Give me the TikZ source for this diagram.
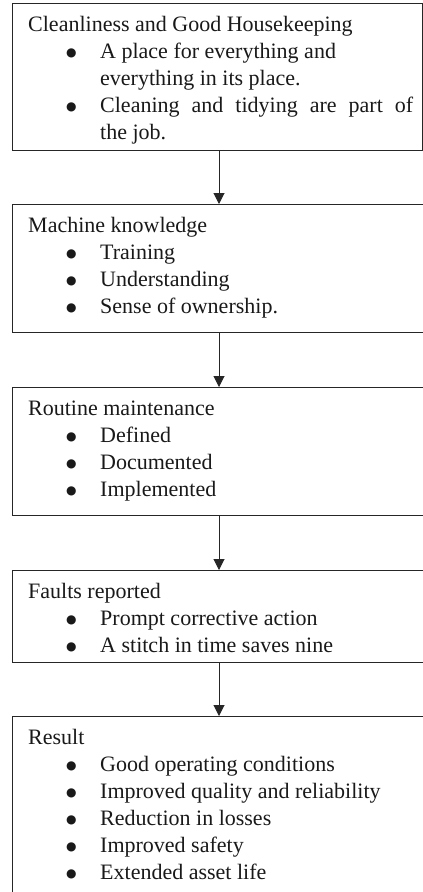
\documentclass[tikz,border=0pt]{standalone}
\usepackage{fontspec}
\setmainfont{Liberation Serif}
\newfontfamily\symfont{DejaVu Sans}
\usetikzlibrary{arrows.meta}
\newcommand{\itm}[1]{\hspace*{38pt}\makebox[34pt][l]{\raisebox{2.6pt}{\symfont\fontsize{12}{12}\selectfont ●}}#1}
\newcommand{\cnt}[1]{\hspace*{72pt}#1}

\begin{document}
\begin{tikzpicture}[x=1pt, y=1pt,
		box/.style={rectangle, draw=black!85, line width=1pt, anchor=north west, inner sep=0pt, minimum width=428},
		txt/.style={anchor=north west, inner sep=0pt, align=left, text=black!90, font=\fontsize{22}{27}\selectfont},
		arr/.style={-{Triangle[width=11pt, length=11pt]}, draw=black!85, fill=black!85, line width=1pt}
		]
		\useasboundingbox (0,0) rectangle (423,-892);
		\clip (0,0) rectangle (423,-892);
		
		%Boxes
		\node[box, minimum width=410, minimum height=147]	(b1)	at (12, -3)		{};
		\node[box, minimum height=128]	(b2)	at (12, -204)	{};
		\node[box, minimum height=128]	(b3)	at (12, -387)	{};
		\node[box, minimum height=92]	(b4)	at (12, -570)	{};
		\node[box, minimum height=190]	(b5)	at (12, -716)	{};
		
		%Texts
		\node[txt]	(t1)	at ([shift={(16,-9.6)}]b1.north west)	{\strut Cleanliness and Good Housekeeping\\
			\itm{A place for everything and}\\
			\cnt{everything in its place.}\\
			\itm{\makebox[313pt][s]{Cleaning and tidying are part of}}\\
			\cnt{the job.}};
		\node[txt]	(t2)	at ([shift={(16,-9.6)}]b2.north west)	{\strut Machine knowledge\\
			\itm{Training}\\
			\itm{Understanding}\\
			\itm{Sense of ownership.}};
		\node[txt]	(t3)	at ([shift={(16,-9.6)}]b3.north west)	{\strut Routine maintenance\\
			\itm{Defined}\\
			\itm{Documented}\\
			\itm{Implemented}};
		\node[txt]	(t4)	at ([shift={(16,-9.6)}]b4.north west)	{\strut Faults reported\\
			\itm{Prompt corrective action}\\
			\itm{A stitch in time saves nine}};
		\node[txt]	(t5)	at ([shift={(16,-9.6)}]b5.north west)	{\strut Result\\
			\itm{Good operating conditions}\\
			\itm{Improved quality and reliability}\\
			\itm{Reduction in losses}\\
			\itm{Improved safety}\\
			\itm{Extended asset life}};
		
		%Lines
		\coordinate (ax) at (219, 0);
		\draw[arr] (b1.south -| ax) -- (b2.north -| ax);
		\draw[arr] (b2.south -| ax) -- (b3.north -| ax);
		\draw[arr] (b3.south -| ax) -- (b4.north -| ax);
		\draw[arr] (b4.south -| ax) -- (b5.north -| ax);
		
	\end{tikzpicture}
\end{document}
